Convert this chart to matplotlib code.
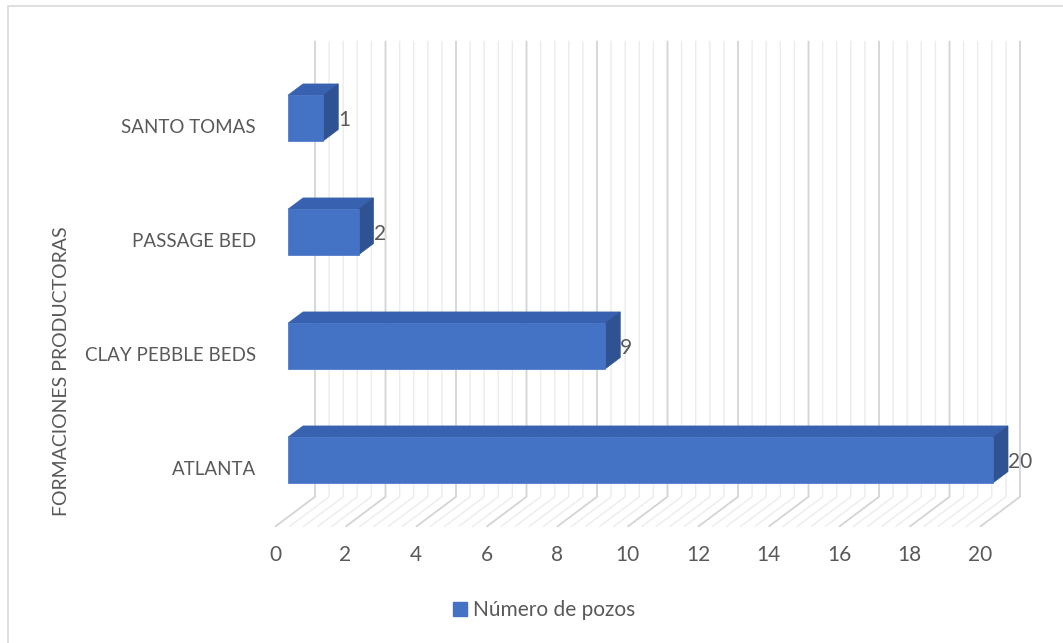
import numpy as np
import matplotlib.pyplot as plt
from matplotlib.patches import Polygon, Rectangle, Patch

plt.rcParams['font.family'] = ['Lato', 'DejaVu Sans']

categories = ['ATLANTA', 'CLAY PEBBLE BEDS', 'PASSAGE BED', 'SANTO TOMAS']
pozos = [20, 9, 2, 1]
x_ticks = list(range(0, 21, 2))
serie = 'Número de pozos'
eje_y = 'FORMACIONES PRODUCTORAS'

FRONT = '#4472C4'
TOP = '#3862AF'
SIDE = '#2F5292'
TXT = '#595959'
GRID_MAJOR = '#d4d4d4'
GRID_MINOR = '#ececec'

# pixel scale of the plot box and oblique depth shift (full depth)
PX_X = 35.25
PX_Y = 114.0
DX = 40 / PX_X
DY = 30 / PX_Y
BAR_D0, BAR_D1 = 0.325, 0.7
HALF = 0.2


def proj(v, y, d):
    return v + d * DX, y + d * DY


fig = plt.figure(figsize=(10.63, 6.43), dpi=100)
ax = fig.add_axes([0, 0, 1, 1])
ax.set_xlim(-275 / PX_X, (1063 - 275) / PX_X)
ax.set_ylim((469.75 - 643) / PX_Y, 469.75 / PX_Y)
ax.axis('off')

# back wall and floor grid
for v in np.arange(0, 20.001, 0.4):
    major = abs(v / 2 - round(v / 2)) < 1e-6
    pts = [proj(v, -0.5, 0), proj(v, -0.5, 1), proj(v, 3.5, 1)]
    xs, ys = zip(*pts)
    ax.plot(xs, ys, color=GRID_MAJOR if major else GRID_MINOR,
            lw=1.3 if major else 1.0, zorder=1 if major else 0.5,
            solid_capstyle='butt')

# 3d bars
for i, val in enumerate(pozos):
    y0, y1 = i - HALF, i + HALF
    front = [proj(0, y0, BAR_D0), proj(val, y0, BAR_D0),
             proj(val, y1, BAR_D0), proj(0, y1, BAR_D0)]
    top = [proj(0, y1, BAR_D0), proj(val, y1, BAR_D0),
           proj(val, y1, BAR_D1), proj(0, y1, BAR_D1)]
    side = [proj(val, y0, BAR_D0), proj(val, y0, BAR_D1),
            proj(val, y1, BAR_D1), proj(val, y1, BAR_D0)]
    for poly, c in ((top, TOP), (side, SIDE), (front, FRONT)):
        ax.add_patch(Polygon(poly, closed=True, fc=c, ec=c, lw=0.5, zorder=3))
    lx, _ = proj(val, y0, BAR_D1)
    _, ly = proj(val, i, BAR_D0)
    ax.text(lx, ly - 0.02, str(val), ha='left', va='center',
            fontsize=15, color=TXT, zorder=4)
    ax.text(-0.54, i, categories[i], ha='right', va='center',
            fontsize=13.5, color=TXT)

for t in x_ticks:
    ax.text(t, -0.752, str(t), ha='center', va='center', fontsize=15, color=TXT)

fig.text(62 / 1063, 1 - 371 / 643, eje_y, rotation=90, ha='center', va='center',
         fontsize=14, color=TXT)

fig.legend(handles=[Patch(color=FRONT, label=serie)], loc='center',
           bbox_to_anchor=(544 / 1063, 1 - 610 / 643), frameon=False,
           handlelength=0.65, handleheight=0.65, handletextpad=0.3,
           fontsize=15, labelcolor=TXT)

fig.patches.append(Rectangle((7.5 / 1063, -0.05), 1.1, 1.05 - 6.5 / 643,
                             transform=fig.transFigure, fill=False,
                             ec='#d9d9d9', lw=1.2))

fig.savefig('out.png', dpi=100)
